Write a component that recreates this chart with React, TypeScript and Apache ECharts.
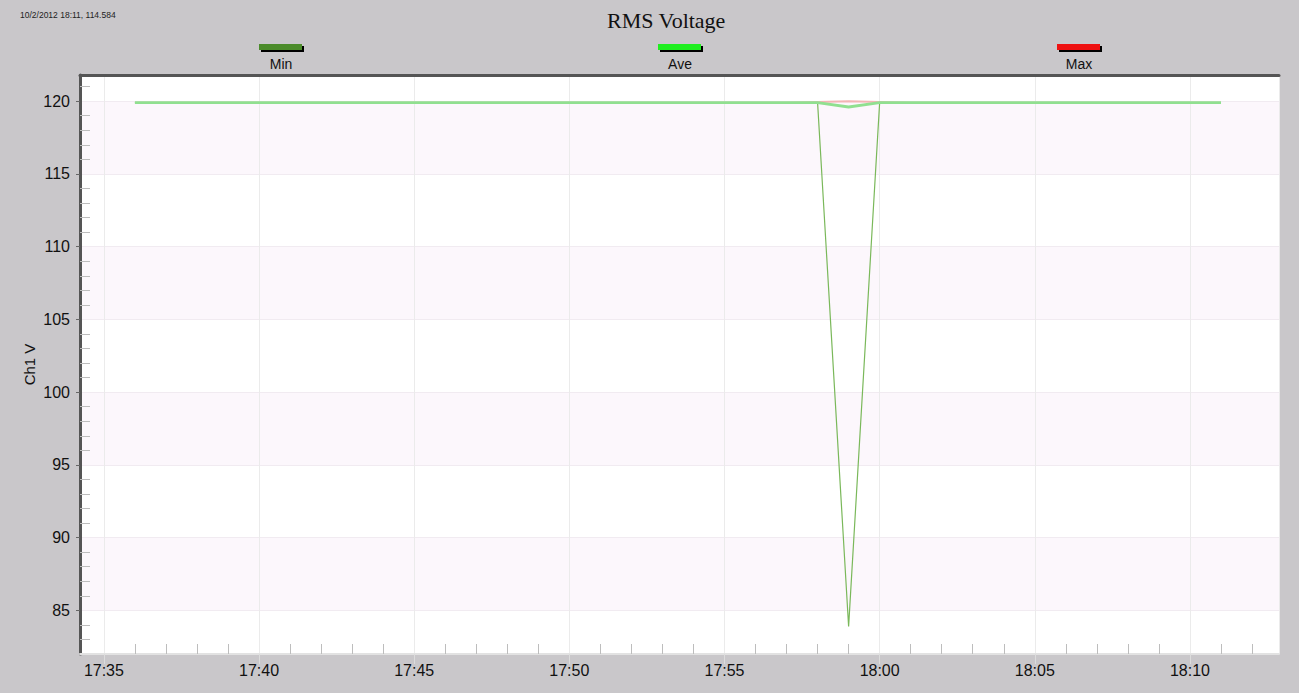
import { useEffect, useRef } from 'react'
import * as echarts from 'echarts'

// one reading per minute, 17:36 .. 18:11
const times = [
  '17:36', '17:37', '17:38', '17:39', '17:40', '17:41', '17:42', '17:43', '17:44',
  '17:45', '17:46', '17:47', '17:48', '17:49', '17:50', '17:51', '17:52', '17:53',
  '17:54', '17:55', '17:56', '17:57', '17:58', '17:59', '18:00', '18:01', '18:02',
  '18:03', '18:04', '18:05', '18:06', '18:07', '18:08', '18:09', '18:10', '18:11',
]
const minVolts = [
  119.9, 119.9, 119.9, 119.9, 119.9, 119.9, 119.9, 119.9, 119.9,
  119.9, 119.9, 119.9, 119.9, 119.9, 119.9, 119.9, 119.9, 119.9,
  119.9, 119.9, 119.9, 119.9, 119.9, 83.9, 119.9, 119.9, 119.9,
  119.9, 119.9, 119.9, 119.9, 119.9, 119.9, 119.9, 119.9, 119.9,
]
const aveVolts = [
  119.9, 119.9, 119.9, 119.9, 119.9, 119.9, 119.9, 119.9, 119.9,
  119.9, 119.9, 119.9, 119.9, 119.9, 119.9, 119.9, 119.9, 119.9,
  119.9, 119.9, 119.9, 119.9, 119.9, 119.6, 119.9, 119.9, 119.9,
  119.9, 119.9, 119.9, 119.9, 119.9, 119.9, 119.9, 119.9, 119.9,
]
const maxVolts = [
  119.9, 119.9, 119.9, 119.9, 119.9, 119.9, 119.9, 119.9, 119.9,
  119.9, 119.9, 119.9, 119.9, 119.9, 119.9, 119.9, 119.9, 119.9,
  119.9, 119.9, 119.9, 119.9, 119.95, 120.0, 119.95, 119.9, 119.9,
  119.9, 119.9, 119.9, 119.9, 119.9, 119.9, 119.9, 119.9, 119.9,
]
const legendNames = ['Min', 'Ave', 'Max']
const legendColors = ['#4b8b2b', '#1fee1f', '#ee1111']
const cursorText = '10/2/2012 18:11, 114.584'

const toMin = (t: string) => {
  const [h, m] = t.split(':').map(Number)
  return h * 60 + m
}
const fmtTime = (v: number) => {
  const h = Math.floor(v / 60)
  const m = Math.round(v - h * 60)
  return `${h}:${String(m).padStart(2, '0')}`
}

const FONT = 'Liberation Sans, Arial, sans-serif'
const X_MIN = 1054.23
const X_MAX = 1092.87
const Y_MIN = 82
const Y_MAX = 121.8

export default function App() {
  const ref = useRef<HTMLDivElement>(null)

  useEffect(() => {
    if (!ref.current) return
    const chart = echarts.init(ref.current, null, { renderer: 'svg' })
    const xs = times.map(toMin)
    const pairs = (vals: number[]) => vals.map((v, i) => [xs[i], v])

    const legendX = [259, 658, 1057]
    const legendGraphics = legendNames.flatMap((name, i) => [
      { type: 'rect', shape: { x: legendX[i] + 2, y: 46, width: 43, height: 6 }, style: { fill: '#000' } },
      { type: 'rect', shape: { x: legendX[i], y: 44, width: 43, height: 6 }, style: { fill: legendColors[i] } },
      {
        type: 'text', x: legendX[i] + 22, y: 64,
        style: { text: name, fill: '#111', font: `14px ${FONT}`, textAlign: 'center', textVerticalAlign: 'middle' },
      },
    ])

    // axis shifted 10px into the plot: its outward minor ticks end on the frame,
    // giving the inward minute / volt ticks
    const innerTicks = {
      type: 'value', splitNumber: 8, offset: -10,
      axisLine: { show: false, onZero: false },
      axisTick: { show: false },
      minorTick: { show: true, splitNumber: 5, length: 10, lineStyle: { color: '#bdbdbd' } },
      axisLabel: { show: false }, splitLine: { show: false },
    }

    chart.setOption({
      animation: false,
      backgroundColor: '#c9c7ca',
      title: {
        text: 'RMS Voltage', left: 602, top: 4,
        textStyle: { fontFamily: 'Liberation Serif, Times New Roman, serif', fontSize: 22, fontWeight: 'normal', color: '#111' },
      },
      graphic: [
        {
          type: 'text', x: 20, y: 15,
          style: { text: cursorText, fill: '#222', font: `8.5px ${FONT}`, textVerticalAlign: 'middle' },
        },
        ...legendGraphics,
      ],
      grid: {
        left: 80, right: 20, top: 75, bottom: 39,
        show: true, backgroundColor: '#ffffff', borderColor: '#dedede', borderWidth: 1,
      },
      xAxis: [
        {
          type: 'value', min: X_MIN, max: X_MAX, splitNumber: 8,
          axisLine: { show: true, onZero: false, lineStyle: { color: '#e2e2e2', width: 2 } },
          axisTick: { show: true, length: 10, lineStyle: { color: '#dcdcdc' } },
          axisLabel: {
            formatter: (v: number) => fmtTime(v), showMinLabel: false, showMaxLabel: false,
            fontFamily: FONT, fontSize: 16, color: '#111', margin: 8,
          },
          splitLine: { show: true, lineStyle: { color: '#ebebeb' } },
        },
        {
          type: 'value', position: 'top', min: X_MIN, max: X_MAX,
          axisLine: { show: true, onZero: false, lineStyle: { color: '#555', width: 3 } },
          axisTick: { show: false }, axisLabel: { show: false }, splitLine: { show: false },
        },
        { ...innerTicks, position: 'bottom', min: X_MIN, max: X_MAX },
      ],
      yAxis: [
        {
          type: 'value', min: Y_MIN, max: Y_MAX, splitNumber: 8,
          name: 'Ch1 V', nameLocation: 'middle', nameGap: 43, nameMoveOverlap: false,
          nameTextStyle: { fontFamily: FONT, fontSize: 15, color: '#111' },
          axisLine: { show: true, onZero: false, lineStyle: { color: '#555', width: 3 } },
          axisTick: { show: true, length: 4, lineStyle: { color: '#666' } },
          axisLabel: {
            showMinLabel: false, showMaxLabel: false,
            fontFamily: FONT, fontSize: 16, color: '#111', margin: 10,
          },
          splitLine: { show: true, lineStyle: { color: '#f1ebf1' } },
          splitArea: { show: true, areaStyle: { color: ['#ffffff', '#fcf7fc'] } },
        },
        { ...innerTicks, position: 'left', min: Y_MIN, max: Y_MAX },
      ],
      series: [
        {
          name: 'Max', type: 'line', data: pairs(maxVolts), showSymbol: false, symbol: 'none',
          lineStyle: { color: '#f3b5b5', width: 2 }, z: 2,
        },
        {
          name: 'Min', type: 'line', data: pairs(minVolts), showSymbol: false, symbol: 'none',
          lineStyle: { color: '#7ab85a', width: 1.2 }, z: 3,
        },
        {
          name: 'Ave', type: 'line', data: pairs(aveVolts), showSymbol: false, symbol: 'none',
          lineStyle: { color: '#90e090', width: 2.8 }, z: 4,
        },
      ],
    })

    const onResize = () => chart.resize()
    window.addEventListener('resize', onResize)
    return () => {
      window.removeEventListener('resize', onResize)
      chart.dispose()
    }
  }, [])

  return <div ref={ref} style={{ position: 'fixed', left: 0, top: 0, width: '100vw', height: '100vh' }} />
}
